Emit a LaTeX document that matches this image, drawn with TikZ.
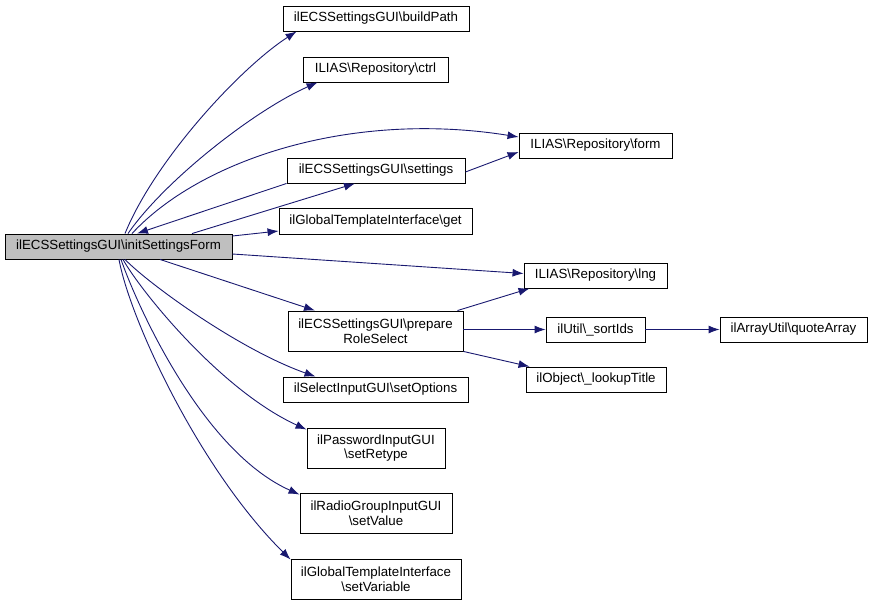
\documentclass[tikz,border=0pt]{standalone}
\usepackage{fontspec}
\setmainfont{Liberation Sans}
\usetikzlibrary{arrows.meta}
\definecolor{edgeblue}{HTML}{191970}
\definecolor{rootgray}{HTML}{BFBFBF}
\begin{document}
\begin{tikzpicture}[
        x=1pt, y=-1pt,
        box/.style={rectangle, draw=black, line width=0.9pt, align=center, inner sep=0pt, font=\fontsize{13.3}{14.5}\selectfont},
        arrow/.style={-{Latex[length=11pt,width=8pt]}, draw=edgeblue, line width=0.9pt}
    ]
        \useasboundingbox (0,0) rectangle (872,605);

        \node[box, fill=rootgray, minimum width=227pt, minimum height=25pt] (init) at (118.5,246.5) {ilECSSettingsGUI\textbackslash initSettingsForm};

        \node[box, minimum width=186pt, minimum height=25pt] (buildpath) at (376,18.5) {ilECSSettingsGUI\textbackslash buildPath};
        \node[box, minimum width=145pt, minimum height=25pt] (ctrl) at (375.5,69.5) {ILIAS\textbackslash Repository\textbackslash ctrl};
        \node[box, minimum width=178pt, minimum height=25pt] (settings) at (376,170.5) {ilECSSettingsGUI\textbackslash settings};
        \node[box, minimum width=193pt, minimum height=26pt] (get) at (375.5,221) {ilGlobalTemplateInterface\textbackslash get};
        \node[box, minimum width=175pt, minimum height=40pt] (prepare) at (375.5,331) {ilECSSettingsGUI\textbackslash prepare\\RoleSelect};
        \node[box, minimum width=185pt, minimum height=25pt] (setoptions) at (375.5,389.5) {ilSelectInputGUI\textbackslash setOptions};
        \node[box, minimum width=138pt, minimum height=40pt] (setretype) at (376,448) {ilPasswordInputGUI\\\textbackslash setRetype};
        \node[box, minimum width=152pt, minimum height=40pt] (setvalue) at (376,513) {ilRadioGroupInputGUI\\\textbackslash setValue};
        \node[box, minimum width=170pt, minimum height=40pt] (setvariable) at (376,579) {ilGlobalTemplateInterface\\\textbackslash setVariable};

        \node[box, minimum width=153pt, minimum height=25pt] (form) at (595.5,145.5) {ILIAS\textbackslash Repository\textbackslash form};
        \node[box, minimum width=143pt, minimum height=25pt] (lng) at (595.5,275.5) {ILIAS\textbackslash Repository\textbackslash lng};
        \node[box, minimum width=99pt, minimum height=25pt] (sortids) at (595.5,329.5) {ilUtil\textbackslash \_sortIds};
        \node[box, minimum width=140pt, minimum height=25pt] (lookup) at (596,379.5) {ilObject\textbackslash \_lookupTitle};
        \node[box, minimum width=147pt, minimum height=25pt] (quotearray) at (793.5,329.5) {ilArrayUtil\textbackslash quoteArray};

        % calls of initSettingsForm
        \draw[arrow] ([xshift=6.5pt]init.north) .. controls (155,160) and (240,68) .. ([xshift=14pt]buildpath.south west);
        \draw[arrow] ([xshift=9.5pt]init.north) .. controls (165,180) and (255,110) .. ([xshift=15pt]ctrl.south west);
        \draw[arrow] ([xshift=13.5pt]init.north) .. controls (200,160) and (350,110) .. ([yshift=8.5pt]form.west);
        \draw[arrow] (settings.south west) -- ([xshift=18.5pt]init.north);
        \draw[arrow] ([xshift=73.5pt]init.north) -- ([xshift=-21pt]settings.south);
        \draw[arrow] ([yshift=10.5pt]init.east) -- ([yshift=-10pt]get.west);
        \draw[arrow] ([yshift=-7.5pt]init.east) -- ([yshift=2pt]lng.west);
        \draw[arrow] ([xshift=41.5pt]init.south) -- ([xshift=-60.5pt]prepare.north);
        \draw[arrow] ([xshift=6.5pt]init.south) .. controls (150,285) and (240,350) .. ([xshift=-60pt]setoptions.north);
        \draw[arrow] ([xshift=4.5pt]init.south) .. controls (140,290) and (220,390) .. ([yshift=-2pt]setretype.north west);
        \draw[arrow] ([xshift=2.5pt]init.south) .. controls (135,300) and (200,450) .. ([yshift=-2pt]setvalue.north west);
        \draw[arrow] ([xshift=0.5pt]init.south) .. controls (130,320) and (200,470) .. ([yshift=-1pt]setvariable.north west);

        % second level
        \draw[arrow] ([yshift=-1.5pt]settings.east) -- ([yshift=-6.5pt]form.west);
        \draw[arrow] ([xshift=-6pt]prepare.north east) -- ([xshift=6pt]lng.south west);
        \draw[arrow] (prepare.east |- sortids.west) -- (sortids.west);
        \draw[arrow] (prepare.south east) -- ([xshift=4pt]lookup.north west);
        \draw[arrow] (sortids.east) -- (quotearray.west);
    \end{tikzpicture}
\end{document}
